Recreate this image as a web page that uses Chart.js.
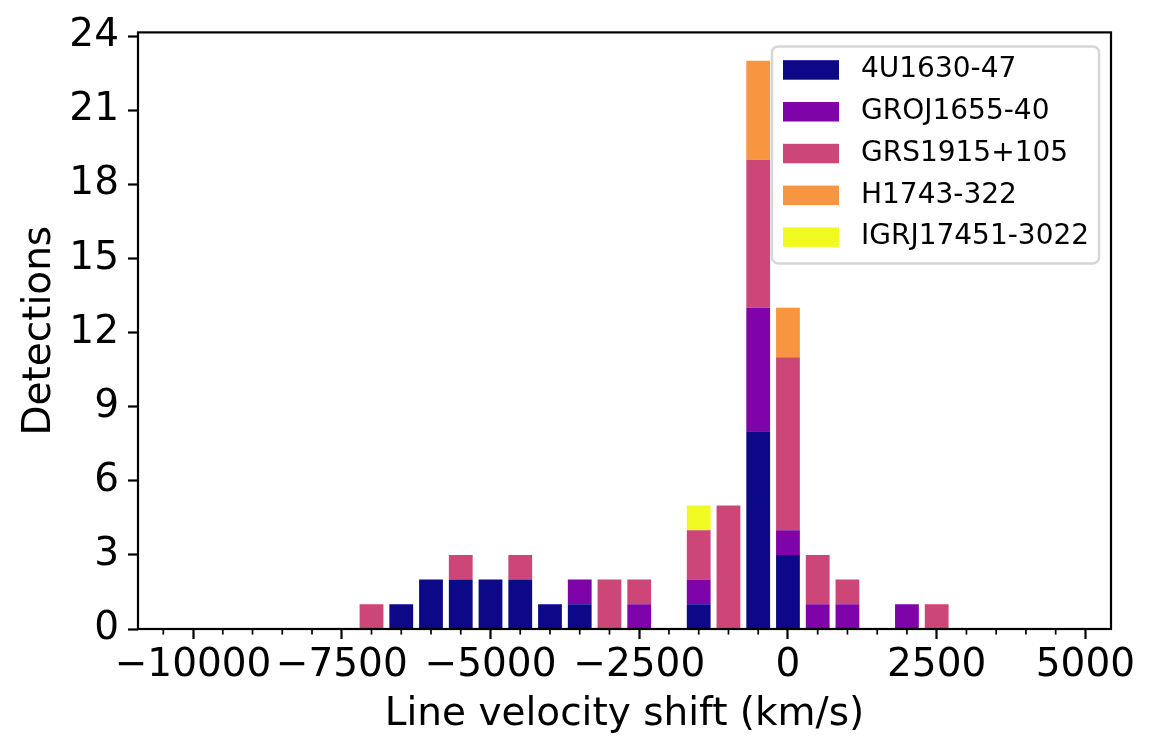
<!DOCTYPE html>
<html>
<head>
<meta charset="utf-8">
<script src="https://cdn.jsdelivr.net/npm/chart.js@4.4.0/dist/chart.umd.min.js"></script>
<style>
  html, body { margin: 0; padding: 0; background: #ffffff; }
  #contenedor { width: 1154px; height: 756px; }
</style>
</head>
<body>
<div id="contenedor"><canvas id="histograma"></canvas></div>
<script>
// Centros de los bins (km/s), ancho de bin 500
const velocidades = [-7000, -6500, -6000, -5500, -5000, -4500, -4000, -3500, -3000,
                     -2500, -1500, -1000, -500, 0, 500, 1000, 2000, 2500];

// Detecciones por fuente en cada bin
const det4U1630   = [0, 1, 2, 2, 2, 2, 1, 1, 0, 0, 1, 0, 8, 3, 0, 0, 0, 0];
const detGROJ1655 = [0, 0, 0, 0, 0, 0, 0, 1, 0, 1, 1, 0, 5, 1, 1, 1, 1, 0];
const detGRS1915  = [1, 0, 0, 1, 0, 1, 0, 0, 2, 1, 2, 5, 6, 7, 2, 1, 0, 1];
const detH1743    = [0, 0, 0, 0, 0, 0, 0, 0, 0, 0, 0, 0, 4, 2, 0, 0, 0, 0];
const detIGRJ1745 = [0, 0, 0, 0, 0, 0, 0, 0, 0, 0, 1, 0, 0, 0, 0, 0, 0, 0];

const fuentes = ['4U1630-47', 'GROJ1655-40', 'GRS1915+105', 'H1743-322', 'IGRJ17451-3022'];
const series = [det4U1630, detGROJ1655, detGRS1915, detH1743, detIGRJ1745];

// Ticks
const ticksX = [-10000, -7500, -5000, -2500, 0, 2500, 5000];
const ticksY = [0, 3, 6, 9, 12, 15, 18, 21, 24];
const ticksMenoresX = [];
for (let v = -10500; v <= 5000; v += 500) {
    if (ticksX.indexOf(v) === -1) ticksMenoresX.push(v);
}

// Paleta plasma
const COLORES = ['#0d0887', '#7e03a8', '#cc4778', '#f89540', '#f0f921'];
const FUENTE = "'DejaVu Sans', sans-serif";

const formatoMenos = v => (v < 0 ? '\u2212' + Math.abs(v) : String(v));

// Marco completo de los ejes y ticks menores
const marcoEjes = {
    id: 'marcoEjes',
    afterDatasetsDraw(chart) {
        const { ctx, chartArea: a, scales } = chart;
        ctx.save();
        ctx.strokeStyle = '#000';
        ctx.lineWidth = 1.7;
        ticksMenoresX.forEach(v => {
            const px = scales.x.getPixelForValue(v);
            ctx.beginPath();
            ctx.moveTo(px, a.bottom);
            ctx.lineTo(px, a.bottom + 5.6);
            ctx.stroke();
        });
        ctx.lineWidth = 2.2;
        ctx.strokeRect(a.left, a.top, a.right - a.left, a.bottom - a.top);
        ctx.restore();
    }
};

// Leyenda estilo matplotlib dentro del área
const leyenda = {
    id: 'leyenda',
    afterDraw(chart) {
        const { ctx, chartArea: a } = chart;
        const ancho = 327, alto = 217;
        const x0 = a.right - 12 - ancho;
        const y0 = a.top + 14;
        ctx.save();
        ctx.beginPath();
        ctx.roundRect(x0, y0, ancho, alto, 6);
        ctx.fillStyle = 'rgba(255,255,255,0.8)';
        ctx.fill();
        ctx.lineWidth = 2.5;
        ctx.strokeStyle = '#d6d6d6';
        ctx.stroke();
        ctx.font = '28px ' + FUENTE;
        ctx.textBaseline = 'middle';
        ctx.textAlign = 'left';
        chart.data.datasets.forEach((ds, i) => {
            const cy = y0 + 23.5 + i * 41.8;
            ctx.fillStyle = ds.backgroundColor;
            ctx.fillRect(x0 + 11, cy - 9.7, 56, 19.5);
            ctx.fillStyle = '#000';
            ctx.fillText(ds.label, x0 + 89, cy);
        });
        ctx.restore();
    }
};

const ctx = document.getElementById('histograma').getContext('2d');

new Chart(ctx, {
    type: 'bar',
    data: {
        datasets: fuentes.map((nombre, i) => ({
            label: nombre,
            data: velocidades.map((v, j) => ({ x: v, y: series[i][j] })),
            backgroundColor: COLORES[i],
            borderWidth: 0,
            categoryPercentage: 1.0,
            barPercentage: 0.8
        }))
    },
    options: {
        responsive: true,
        maintainAspectRatio: false,
        animation: false,
        layout: { padding: { top: 31, right: 43, left: 0, bottom: 0 } },
        plugins: {
            legend: { display: false },
            tooltip: { enabled: false }
        },
        scales: {
            x: {
                type: 'linear',
                stacked: true,
                offset: false,
                min: -10925,
                max: 5430,
                afterBuildTicks: s => { s.ticks = ticksX.map(v => ({ value: v })); },
                afterFit: s => { s.height = 127; },
                grid: { display: true, offset: false, drawOnChartArea: false, tickLength: 10, tickWidth: 2.2, tickColor: '#000' },
                border: { display: false },
                ticks: {
                    color: '#000',
                    font: { family: FUENTE, size: 39 },
                    padding: 3,
                    maxRotation: 0,
                    autoSkip: false,
                    callback: v => formatoMenos(v)
                },
                title: {
                    display: true,
                    text: 'Line velocity shift (km/s)',
                    color: '#000',
                    font: { family: FUENTE, size: 39 },
                    padding: { top: 0, bottom: 18 }
                }
            },
            y: {
                type: 'linear',
                stacked: true,
                min: 0,
                max: 24.15,
                afterBuildTicks: s => { s.ticks = ticksY.map(v => ({ value: v })); },
                afterFit: s => { s.width = 138; },
                grid: { display: true, drawOnChartArea: false, tickLength: 10, tickWidth: 2.2, tickColor: '#000' },
                border: { display: false },
                ticks: {
                    color: '#000',
                    font: { family: FUENTE, size: 39 },
                    padding: 9,
                    autoSkip: false
                },
                title: {
                    display: true,
                    text: 'Detections',
                    color: '#000',
                    font: { family: FUENTE, size: 39 },
                    padding: { top: 16, bottom: 0 }
                }
            }
        }
    },
    plugins: [marcoEjes, leyenda]
});
</script>
</body>
</html>
